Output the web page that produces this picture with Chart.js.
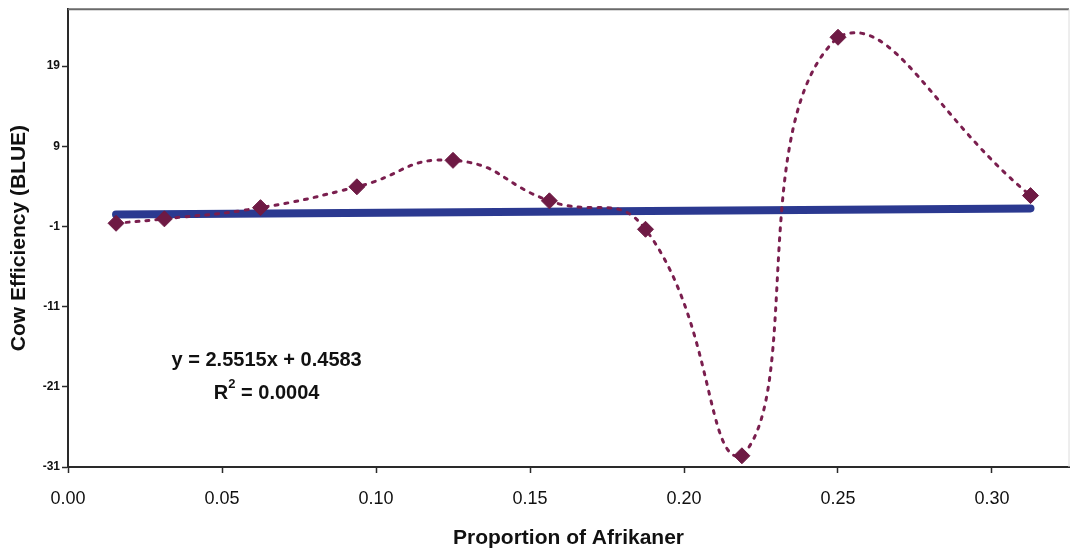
<!DOCTYPE html>
<html>
<head>
<meta charset="utf-8">
<script src="https://cdn.jsdelivr.net/npm/chart.js@4.4.1/dist/chart.umd.min.js"></script>
<style>
  html, body { margin: 0; padding: 0; background: #ffffff; }
  #wrap { width: 1078px; height: 555px; position: relative; }
</style>
</head>
<body>
<div id="wrap"><canvas id="c" width="1078" height="555"></canvas></div>
<script>
// ---- data ----
const proportionAfrikaner = [0.0156, 0.0313, 0.0625, 0.0938, 0.125, 0.1563, 0.1875, 0.2188, 0.25, 0.3125];
const cowEfficiency       = [-0.6, -0.05, 1.35, 3.95, 7.25, 2.2, -1.35, -29.6, 22.6, 2.85];
const trendSlope = 2.5515;
const trendIntercept = 0.4583;
const trendR2 = 0.0004;
const yTickValues = [-31, -21, -11, -1, 9, 19];
const xTickValues = [0.00, 0.05, 0.10, 0.15, 0.20, 0.25, 0.30];

const trendX = [proportionAfrikaner[0], proportionAfrikaner[proportionAfrikaner.length - 1]];
const trendPoints = trendX.map(x => ({ x: x, y: trendSlope * x + trendIntercept }));
const points = proportionAfrikaner.map((x, i) => ({ x: x, y: cowEfficiency[i] }));

const FONT = "'Liberation Sans', Arial, sans-serif";

const annotations = {
  id: 'annotations',
  afterDraw(chart) {
    const ctx = chart.ctx;
    const a = chart.chartArea;
    ctx.save();
    // top and right frame
    ctx.strokeStyle = '#6a6a6a';
    ctx.lineWidth = 2;
    ctx.beginPath();
    ctx.moveTo(a.left, a.top);
    ctx.lineTo(a.right, a.top);
    ctx.stroke();
    ctx.strokeStyle = '#dcdcdc';
    ctx.lineWidth = 1;
    ctx.beginPath();
    ctx.moveTo(a.right, a.top);
    ctx.lineTo(a.right, a.bottom);
    ctx.stroke();
    // equation text
    const xs = chart.scales.x, ys = chart.scales.y;
    const cx = xs.getPixelForValue(0.0645);
    ctx.fillStyle = '#111111';
    ctx.textAlign = 'center';
    ctx.textBaseline = 'middle';
    ctx.font = 'bold 20px ' + FONT;
    ctx.fillText('y = ' + trendSlope.toFixed(4) + 'x + ' + trendIntercept.toFixed(4), cx, ys.getPixelForValue(-17.75));
    const ry = ys.getPixelForValue(-21.85);
    const s1 = 'R', s3 = ' = ' + trendR2.toFixed(4);
    ctx.font = 'bold 20px ' + FONT;
    const w1 = ctx.measureText(s1).width, w3 = ctx.measureText(s3).width;
    ctx.font = 'bold 13px ' + FONT;
    const w2 = ctx.measureText('2').width;
    const start = cx - (w1 + w2 + w3) / 2;
    ctx.textAlign = 'left';
    ctx.font = 'bold 20px ' + FONT;
    ctx.fillText(s1, start, ry);
    ctx.font = 'bold 13px ' + FONT;
    ctx.fillText('2', start + w1, ry - 9);
    ctx.font = 'bold 20px ' + FONT;
    ctx.fillText(s3, start + w1 + w2, ry);
    ctx.restore();
  }
};

new Chart(document.getElementById('c'), {
  type: 'scatter',
  data: {
    datasets: [
      {
        label: 'Trend',
        data: trendPoints,
        showLine: true,
        borderColor: '#2b3990',
        borderWidth: 8,
        borderCapStyle: 'round',
        pointRadius: 0,
        order: 2
      },
      {
        label: 'Cow Efficiency',
        data: points,
        showLine: true,
        tension: 0.5,
        borderColor: '#7a1e4e',
        borderWidth: 3,
        borderDash: [3, 7],
        borderCapStyle: 'round',
        pointStyle: 'rectRot',
        pointRadius: 8,
        pointBackgroundColor: '#6e1a44',
        pointBorderColor: '#6e1a44',
        pointBorderWidth: 1,
        order: 1
      }
    ]
  },
  options: {
    responsive: false,
    animation: false,
    devicePixelRatio: 1,
    layout: { padding: { top: 7, right: 3, left: 0, bottom: 0 } },
    plugins: {
      legend: { display: false },
      tooltip: { enabled: false }
    },
    scales: {
      x: {
        type: 'linear',
        min: 0,
        max: 0.325,
        afterBuildTicks(scale) { scale.ticks = xTickValues.map(v => ({ value: v })); },
        afterFit(scale) { scale.height = 88; },
        border: { display: true, color: '#2a2a2a', width: 2 },
        grid: { display: true, drawOnChartArea: false, drawTicks: true, tickLength: 6, tickColor: '#2a2a2a', tickWidth: 1.5 },
        ticks: {
          padding: 15,
          color: '#111',
          font: { family: FONT, size: 18 },
          maxRotation: 0,
          autoSkip: false,
          callback: v => Number(v).toFixed(2)
        },
        title: {
          display: true,
          text: 'Proportion of Afrikaner',
          color: '#111',
          font: { family: FONT, size: 21, weight: 'bold' },
          padding: { top: 0, bottom: 4 }
        }
      },
      y: {
        type: 'linear',
        min: -31,
        max: 26.1,
        afterBuildTicks(scale) { scale.ticks = yTickValues.map(v => ({ value: v })); },
        afterFit(scale) { scale.width = 68; },
        border: { display: true, color: '#2a2a2a', width: 2 },
        grid: { display: true, drawOnChartArea: false, drawTicks: true, tickLength: 6, tickColor: '#2a2a2a', tickWidth: 1.5 },
        ticks: {
          padding: 2,
          color: '#111',
          font: { family: FONT, size: 12, weight: 'bold' },
          autoSkip: false
        },
        title: {
          display: true,
          text: 'Cow Efficiency (BLUE)',
          color: '#111',
          font: { family: FONT, size: 21, weight: 'bold' },
          padding: { top: 7, bottom: 0 }
        }
      }
    }
  },
  plugins: [annotations]
});
</script>
</body>
</html>
